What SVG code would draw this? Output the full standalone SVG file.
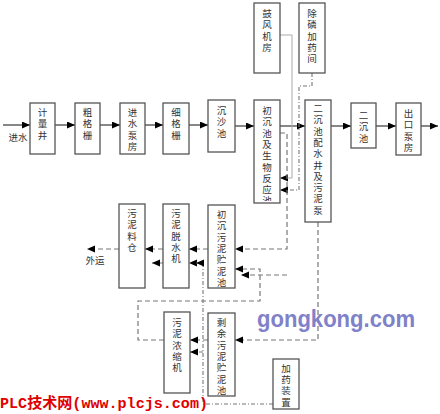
<svg xmlns="http://www.w3.org/2000/svg" width="440" height="414" viewBox="0 0 440 414">
<style>
.box{fill:#fff;stroke:#555;stroke-width:1.3}
.t{font-family:"Noto Sans CJK SC","Liberation Sans",sans-serif;font-size:9.5px;fill:#333;text-anchor:middle}
.flow{stroke:#111;stroke-width:1;fill:none}
.air{stroke:#aaa;stroke-width:1;fill:none}
.dash{stroke:#777;stroke-width:1.2;fill:none;stroke-dasharray:5,3}
.dd{stroke:#777;stroke-width:1.1;fill:none;stroke-dasharray:4,2,1,2}
</style>
<defs>
<marker id="ah" markerUnits="userSpaceOnUse" markerWidth="9" markerHeight="8" refX="8" refY="3.5" orient="auto">
<path d="M0,0 L8,3.5 L0,7 z" fill="#000"/>
</marker>
<clipPath id="c1"><rect x="254" y="100" width="26" height="101"/></clipPath>
<clipPath id="c2"><rect x="208" y="205" width="27" height="82"/></clipPath>
<clipPath id="c3"><rect x="208" y="313" width="27" height="82"/></clipPath>
</defs>

<g id="connectors">
<path class="flow" d="M3,125 H30" marker-end="url(#ah)"/>
<path class="flow" d="M55,125 H75" marker-end="url(#ah)"/>
<path class="flow" d="M100,125 H120" marker-end="url(#ah)"/>
<path class="flow" d="M145,125 H163" marker-end="url(#ah)"/>
<path class="flow" d="M189,125 H208" marker-end="url(#ah)"/>
<path class="flow" d="M235,126 H254" marker-end="url(#ah)"/>
<path class="flow" d="M280,126 H305" marker-end="url(#ah)"/>
<path class="flow" d="M331,126 H351" marker-end="url(#ah)"/>
<path class="flow" d="M376,126 H396" marker-end="url(#ah)"/>
<path class="flow" d="M421,126 H438" marker-end="url(#ah)"/>
<path class="air" d="M280,35 H292 V178 H280" marker-end="url(#ah)"/>
<path class="dd" d="M312,73 V86 H299 V190 H280" marker-end="url(#ah)"/>
<path class="dash" d="M280,133 H287 V249 H235" marker-end="url(#ah)"/>
<path class="dash" d="M287,275 H241" marker-end="url(#ah)"/>
<path class="dash" d="M164,340 H138 V301 H260 V269 H235" marker-end="url(#ah)"/>
<path class="dash" d="M318,222 V340 H235" marker-end="url(#ah)"/>
<path class="dash" d="M208,340 H190" marker-end="url(#ah)"/>
<path class="dash" d="M208,249 H189" marker-end="url(#ah)"/>
<path class="dash" d="M163,249 H145" marker-end="url(#ah)"/>
<path class="dash" d="M119,249 H87" marker-end="url(#ah)"/>
<path class="dash" d="M163,263 H152" marker-end="url(#ah)"/>
<path class="dd" d="M273,404 H203 V263 H189" marker-end="url(#ah)"/>
<path class="dd" d="M203,263 H196" marker-end="url(#ah)"/>
<path class="dd" d="M203,352 H190" marker-end="url(#ah)"/>
</g>

<g id="label-in"><text class="t" x="18" y="141">进水</text></g>
<g id="label-out"><text class="t" x="95" y="264">外运</text></g>

<g id="jiliangjing"><rect class="box" x="30" y="103" width="25" height="51"/>
<text class="t"><tspan x="42.5" y="116">计</tspan><tspan x="42.5" y="127.3">量</tspan><tspan x="42.5" y="138.6">井</tspan></text></g>
<g id="cugeshan"><rect class="box" x="75" y="103" width="25" height="51"/>
<text class="t"><tspan x="87.5" y="116">粗</tspan><tspan x="87.5" y="127.3">格</tspan><tspan x="87.5" y="138.6">栅</tspan></text></g>
<g id="jinshuibengfang"><rect class="box" x="120" y="103" width="25" height="51"/>
<text class="t"><tspan x="132.5" y="116">进</tspan><tspan x="132.5" y="127.3">水</tspan><tspan x="132.5" y="138.6">泵</tspan><tspan x="132.5" y="149.9">房</tspan></text></g>
<g id="xigeshan"><rect class="box" x="163" y="103" width="26" height="51"/>
<text class="t"><tspan x="176" y="116">细</tspan><tspan x="176" y="127.3">格</tspan><tspan x="176" y="138.6">栅</tspan></text></g>
<g id="chenshachi"><rect class="box" x="208" y="100" width="27" height="52"/>
<text class="t"><tspan x="221.5" y="114">沉</tspan><tspan x="221.5" y="125.3">沙</tspan><tspan x="221.5" y="136.6">池</tspan></text></g>
<g id="chuchenchi"><rect class="box" x="254" y="100" width="26" height="103"/>
<text class="t" clip-path="url(#c1)"><tspan x="267" y="114">初</tspan><tspan x="267" y="125.3">沉</tspan><tspan x="267" y="136.6">池</tspan><tspan x="267" y="147.9">及</tspan><tspan x="267" y="159.2">生</tspan><tspan x="267" y="170.5">物</tspan><tspan x="267" y="181.8">反</tspan><tspan x="267" y="193.1">应</tspan><tspan x="267" y="204.4">池</tspan></text></g>
<g id="gufengjifang"><rect class="box" x="254" y="3" width="26" height="70"/>
<text class="t"><tspan x="267" y="17">鼓</tspan><tspan x="267" y="28.3">风</tspan><tspan x="267" y="39.6">机</tspan><tspan x="267" y="50.9">房</tspan></text></g>
<g id="chulin"><rect class="box" x="299" y="3" width="26" height="70"/>
<text class="t"><tspan x="312" y="17">除</tspan><tspan x="312" y="28.3">磷</tspan><tspan x="312" y="39.6">加</tspan><tspan x="312" y="50.9">药</tspan><tspan x="312" y="62.2">间</tspan></text></g>
<g id="peishuijing"><rect class="box" x="305" y="100" width="26" height="122"/>
<text class="t"><tspan x="318" y="112">二</tspan><tspan x="318" y="123.3">沉</tspan><tspan x="318" y="134.6">池</tspan><tspan x="318" y="145.9">配</tspan><tspan x="318" y="157.2">水</tspan><tspan x="318" y="168.5">井</tspan><tspan x="318" y="179.8">及</tspan><tspan x="318" y="191.1">污</tspan><tspan x="318" y="202.4">泥</tspan><tspan x="318" y="213.7">泵</tspan></text></g>
<g id="erchenchi"><rect class="box" x="351" y="103" width="25" height="45"/>
<text class="t"><tspan x="363.5" y="119">二</tspan><tspan x="363.5" y="130.3">沉</tspan><tspan x="363.5" y="141.6">池</tspan></text></g>
<g id="chukoubengfang"><rect class="box" x="396" y="103" width="25" height="52"/>
<text class="t"><tspan x="408.5" y="117">出</tspan><tspan x="408.5" y="128.3">口</tspan><tspan x="408.5" y="139.6">泵</tspan><tspan x="408.5" y="150.9">房</tspan></text></g>

<g id="wuniliaocang"><rect class="box" x="119" y="204" width="26" height="84"/>
<text class="t"><tspan x="132" y="217">污</tspan><tspan x="132" y="228.3">泥</tspan><tspan x="132" y="239.6">料</tspan><tspan x="132" y="250.9">仓</tspan></text></g>
<g id="tuoshuiji"><rect class="box" x="163" y="204" width="26" height="84"/>
<text class="t"><tspan x="176" y="217">污</tspan><tspan x="176" y="228.3">泥</tspan><tspan x="176" y="239.6">脱</tspan><tspan x="176" y="250.9">水</tspan><tspan x="176" y="262.2">机</tspan></text></g>
<g id="chuchenzhunichi"><rect class="box" x="208" y="205" width="27" height="83"/>
<text class="t" clip-path="url(#c2)"><tspan x="221.5" y="218">初</tspan><tspan x="221.5" y="229.3">沉</tspan><tspan x="221.5" y="240.6">污</tspan><tspan x="221.5" y="251.9">泥</tspan><tspan x="221.5" y="263.2">贮</tspan><tspan x="221.5" y="274.5">泥</tspan><tspan x="221.5" y="285.8">池</tspan></text></g>
<g id="nongsuoji"><rect class="box" x="164" y="312" width="26" height="81"/>
<text class="t"><tspan x="177" y="326">污</tspan><tspan x="177" y="337.3">泥</tspan><tspan x="177" y="348.6">浓</tspan><tspan x="177" y="359.9">缩</tspan><tspan x="177" y="371.2">机</tspan></text></g>
<g id="shengyuzhunichi"><rect class="box" x="208" y="313" width="27" height="83"/>
<text class="t" clip-path="url(#c3)"><tspan x="221.5" y="326">剩</tspan><tspan x="221.5" y="337.3">余</tspan><tspan x="221.5" y="348.6">污</tspan><tspan x="221.5" y="359.9">泥</tspan><tspan x="221.5" y="371.2">贮</tspan><tspan x="221.5" y="382.5">泥</tspan><tspan x="221.5" y="393.8">池</tspan></text></g>
<g id="jiayaozhuangzhi"><rect class="box" x="273" y="359" width="26" height="50"/>
<text class="t"><tspan x="286" y="372">加</tspan><tspan x="286" y="383.2">药</tspan><tspan x="286" y="394.4">装</tspan><tspan x="286" y="405.6">置</tspan></text></g>

<text x="257" y="327" textLength="158" lengthAdjust="spacingAndGlyphs" style="font-family:'Liberation Sans',Arial,sans-serif;font-weight:bold;font-size:23px;fill:#7f82c8">gongkong.com</text>
<text x="0" y="408" textLength="208" lengthAdjust="spacingAndGlyphs" style="font-family:'Liberation Mono','Noto Sans CJK SC',monospace;font-weight:bold;font-size:15px;fill:#e00000">PLC技术网(www.plcjs.com)</text>
</svg>
